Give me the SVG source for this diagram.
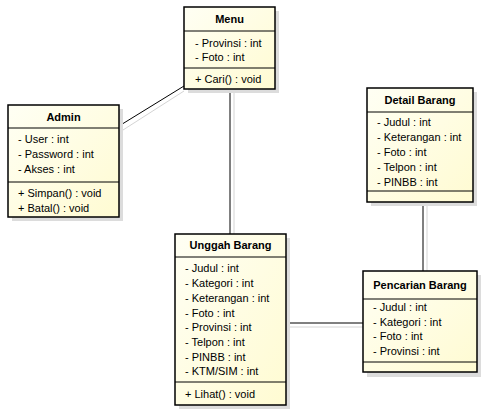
<svg xmlns="http://www.w3.org/2000/svg" width="481" height="409" viewBox="0 0 481 409">
<style>
.box{fill:url(#g);stroke:#000;stroke-width:1.5}
.sh{fill:#dcdcdc}
.sep{stroke:#000;stroke-width:1}
.t{font-family:"Liberation Sans",Arial,sans-serif;font-size:11px;fill:#000}
.b{font-weight:bold;text-anchor:middle}
.ln{stroke:#000;stroke-width:1;fill:none}
.lns{stroke:#d4d4d4;stroke-width:1;fill:none}
</style>
<defs>
<linearGradient id="g" x1="0" y1="0" x2="1" y2="1">
<stop offset="0" stop-color="#fffff4"/>
<stop offset="1" stop-color="#fffbd2"/>
</linearGradient>
</defs>
<rect width="481" height="409" fill="#fff"/>
<g id="connectors">
<line class="lns" x1="123" y1="130" x2="184" y2="91"/>
<line class="ln" x1="119" y1="126" x2="184" y2="86"/>
<line class="lns" x1="234" y1="93" x2="234" y2="234"/>
<line class="ln" x1="230" y1="89" x2="230" y2="234"/>
<line class="lns" x1="427" y1="206" x2="427" y2="271"/>
<line class="ln" x1="423" y1="202" x2="423" y2="271"/>
<line class="lns" x1="290" y1="327" x2="363" y2="327"/>
<line class="ln" x1="286" y1="323" x2="363" y2="323"/>
</g>
<g id="menu">
<rect class="sh" x="188" y="11" width="91" height="82"/>
<rect class="box" x="184" y="7" width="91" height="82"/>
<line class="sep" x1="184" y1="31" x2="275" y2="31"/>
<line class="sep" x1="184" y1="68" x2="275" y2="68"/>
<text class="t b" x="229.5" y="23">Menu</text>
<text class="t" x="195" y="47">- Provinsi : int</text>
<text class="t" x="195" y="61">- Foto : int</text>
<text class="t" x="195" y="83">+ Cari() : void</text>
</g>
<g id="admin">
<rect class="sh" x="12" y="109" width="111" height="112"/>
<rect class="box" x="8" y="105" width="111" height="112"/>
<line class="sep" x1="8" y1="128" x2="119" y2="128"/>
<line class="sep" x1="8" y1="182" x2="119" y2="182"/>
<text class="t b" x="63.5" y="121">Admin</text>
<text class="t" x="18" y="143">- User : int</text>
<text class="t" x="18" y="158">- Password : int</text>
<text class="t" x="18" y="173">- Akses : int</text>
<text class="t" x="18" y="197">+ Simpan() : void</text>
<text class="t" x="18" y="212">+ Batal() : void</text>
</g>
<g id="detail-barang">
<rect class="sh" x="371" y="92" width="106" height="114"/>
<rect class="box" x="367" y="88" width="106" height="114"/>
<line class="sep" x1="367" y1="112" x2="473" y2="112"/>
<line class="sep" x1="367" y1="191" x2="473" y2="191"/>
<text class="t b" x="420" y="104">Detail Barang</text>
<text class="t" x="377" y="126">- Judul : int</text>
<text class="t" x="377" y="141">- Keterangan : int</text>
<text class="t" x="377" y="156">- Foto : int</text>
<text class="t" x="377" y="171">- Telpon : int</text>
<text class="t" x="377" y="186">- PINBB : int</text>
</g>
<g id="unggah-barang">
<rect class="sh" x="179" y="238" width="111" height="171"/>
<rect class="box" x="175" y="234" width="111" height="171"/>
<line class="sep" x1="175" y1="257" x2="286" y2="257"/>
<line class="sep" x1="175" y1="382" x2="286" y2="382"/>
<text class="t b" x="230.5" y="249">Unggah Barang</text>
<text class="t" x="185" y="272">- Judul : int</text>
<text class="t" x="185" y="287">- Kategori : int</text>
<text class="t" x="185" y="302">- Keterangan : int</text>
<text class="t" x="185" y="317">- Foto : int</text>
<text class="t" x="185" y="331">- Provinsi : int</text>
<text class="t" x="185" y="346">- Telpon : int</text>
<text class="t" x="185" y="361">- PINBB : int</text>
<text class="t" x="185" y="375">- KTM/SIM : int</text>
<text class="t" x="185" y="398">+ Lihat() : void</text>
</g>
<g id="pencarian-barang">
<rect class="sh" x="367" y="275" width="114" height="102"/>
<rect class="box" x="363" y="271" width="114" height="101"/>
<line class="sep" x1="363" y1="299" x2="477" y2="299"/>
<line class="sep" x1="363" y1="362" x2="477" y2="362"/>
<text class="t b" x="420" y="289">Pencarian Barang</text>
<text class="t" x="373" y="311">- Judul : int</text>
<text class="t" x="373" y="326">- Kategori : int</text>
<text class="t" x="373" y="340">- Foto : int</text>
<text class="t" x="373" y="355">- Provinsi : int</text>
</g>
</svg>
